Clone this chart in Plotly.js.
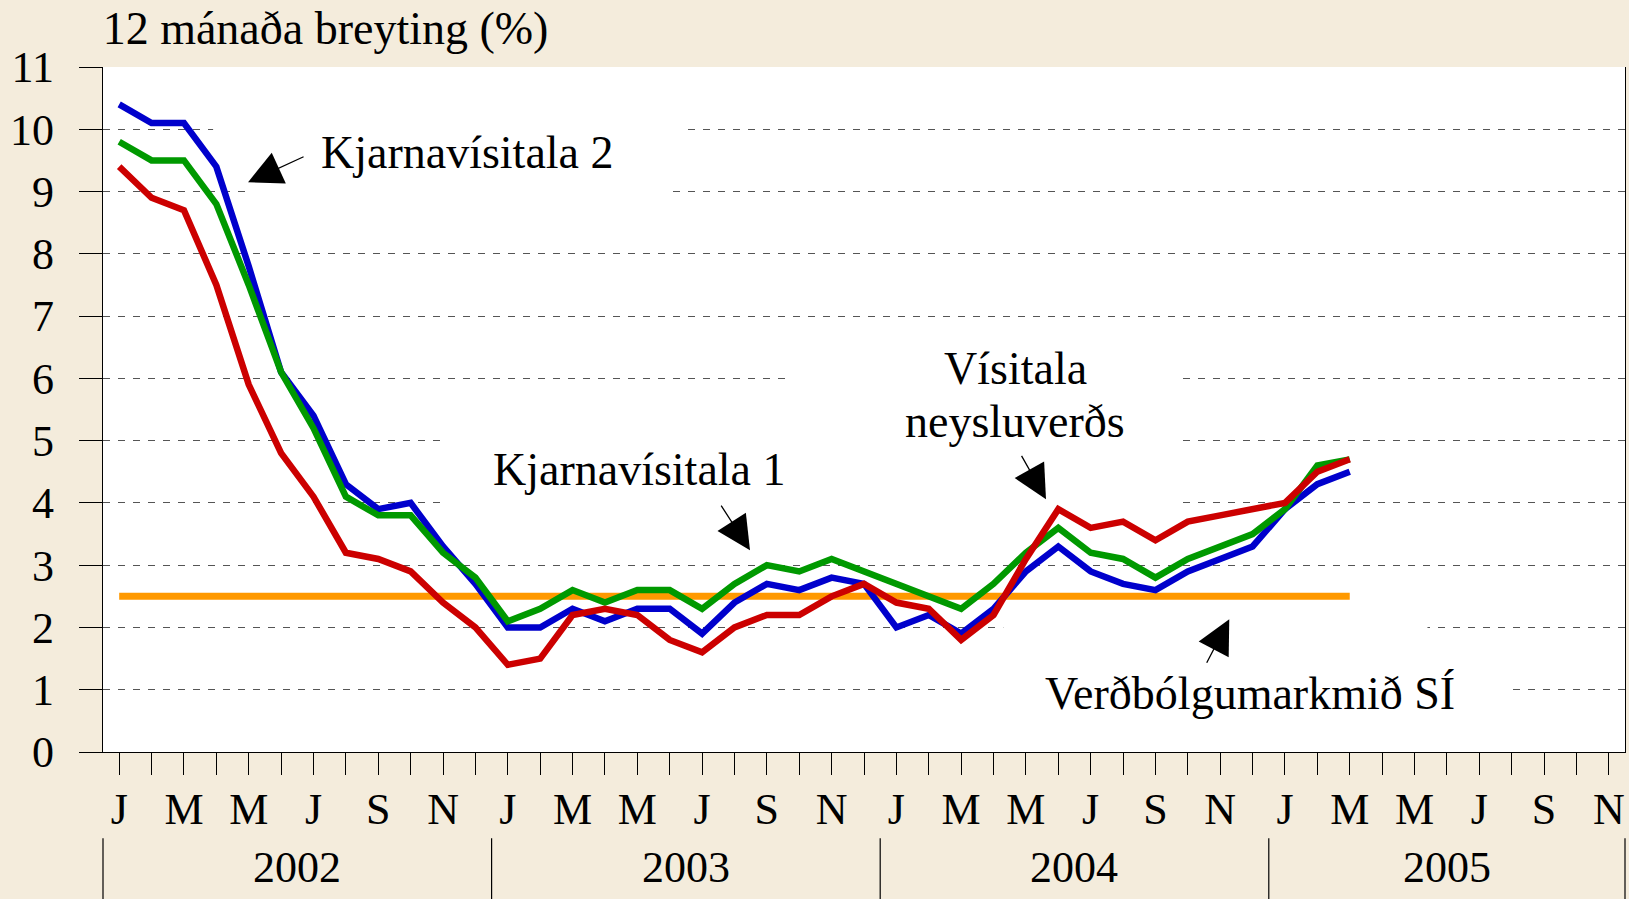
<!DOCTYPE html>
<html>
<head>
<meta charset="utf-8">
<script src="https://cdn.plot.ly/plotly-3.0.1.min.js"></script>
<style>
  html, body { margin: 0; padding: 0; background: #F4ECDC; }
  #chart { width: 1629px; height: 899px; }
</style>
</head>
<body>
<div id="chart"></div>
<script>
// Categories: months Jan 2002 - Nov 2005
const months = [
  '2002-01','2002-02','2002-03','2002-04','2002-05','2002-06','2002-07','2002-08','2002-09','2002-10','2002-11','2002-12',
  '2003-01','2003-02','2003-03','2003-04','2003-05','2003-06','2003-07','2003-08','2003-09','2003-10','2003-11','2003-12',
  '2004-01','2004-02','2004-03','2004-04','2004-05','2004-06','2004-07','2004-08','2004-09','2004-10','2004-11','2004-12',
  '2005-01','2005-02','2005-03','2005-04','2005-05','2005-06','2005-07','2005-08','2005-09','2005-10','2005-11'
];
const monthTicks = [
  'J','','M','','M','','J','','S','','N','',
  'J','','M','','M','','J','','S','','N','',
  'J','','M','','M','','J','','S','','N','',
  'J','','M','','M','','J','','S','','N'
];
const years = ['2002','2003','2004','2005'];

// Series (12 month change, %), Jan 2002 - Mar 2005
const kjarnavisitala2 = [10.4,10.1,10.1,9.4,7.8,6.1,5.4,4.3,3.9,4.0,3.3,2.7,
  2.0,2.0,2.3,2.1,2.3,2.3,1.9,2.4,2.7,2.6,2.8,2.7,
  2.0,2.2,1.9,2.3,2.9,3.3,2.9,2.7,2.6,2.9,3.1,3.3,
  3.9,4.3,4.5];
const kjarnavisitala1 = [9.8,9.5,9.5,8.8,7.5,6.1,5.2,4.1,3.8,3.8,3.2,2.8,
  2.1,2.3,2.6,2.4,2.6,2.6,2.3,2.7,3.0,2.9,3.1,2.9,
  2.7,2.5,2.3,2.7,3.2,3.6,3.2,3.1,2.8,3.1,3.3,3.5,
  3.9,4.6,4.7];
const visitalaNeysluverds = [9.4,8.9,8.7,7.5,5.9,4.8,4.1,3.2,3.1,2.9,2.4,2.0,
  1.4,1.5,2.2,2.3,2.2,1.8,1.6,2.0,2.2,2.2,2.5,2.7,
  2.4,2.3,1.8,2.2,3.1,3.9,3.6,3.7,3.4,3.7,3.8,3.9,
  4.0,4.5,4.7];
const verdbolgumarkmid = [2.5,2.5,2.5,2.5,2.5,2.5,2.5,2.5,2.5,2.5,2.5,2.5,
  2.5,2.5,2.5,2.5,2.5,2.5,2.5,2.5,2.5,2.5,2.5,2.5,
  2.5,2.5,2.5,2.5,2.5,2.5,2.5,2.5,2.5,2.5,2.5,2.5,
  2.5,2.5,2.5];

const FONT = 'Liberation Serif, Times New Roman, serif';

function line(name, y, color, width) {
  return {
    type: 'scatter', mode: 'lines', name: name,
    x: months.slice(0, y.length), y: y,
    line: {color: color, width: width},
    hoverinfo: 'skip'
  };
}

const traces = [
  line('Verðbólgumarkmið SÍ', verdbolgumarkmid, '#FF9900', 7),
  line('Kjarnavísitala 2', kjarnavisitala2, '#0000CC', 6.5),
  line('Kjarnavísitala 1', kjarnavisitala1, '#009900', 6.5),
  line('Vísitala neysluverðs', visitalaNeysluverds, '#CC0000', 6.5)
];

// white boxes behind label texts (interrupt the gridlines)
function box(x0, x1, y0, y1) {
  return {type: 'rect', xref: 'x', yref: 'y', x0: x0, x1: x1, y0: y0, y1: y1,
          fillcolor: '#FFFFFF', line: {width: 0}, layer: 'between'};
}
const shapes = [
  box(2.9, 17.5, 9.7, 10.3),
  box(3.9, 17.1, 8.7, 9.3),
  box(10.0, 32.8, 3.7, 5.3),
  box(20.6, 32.8, 5.7, 6.3),
  box(27.3, 40.4, 1.7, 2.3),
  box(26.1, 42.8, 0.7, 1.3)
];
// year dividers
const yearStarts = years.map((y, k) => 12 * k - 0.5);
yearStarts.forEach((xv, k) => {
  shapes.push({type: 'line', xref: k === 0 ? 'x domain' : 'x', yref: 'paper',
    x0: k === 0 ? 0 : xv, x1: k === 0 ? 0 : xv, y0: -0.126, y1: -0.215,
    line: {color: '#000', width: 1.2}});
});
shapes.push({type: 'line', xref: 'x domain', yref: 'paper', x0: 1, x1: 1,
  y0: -0.126, y1: -0.215, line: {color: '#000', width: 1.2}});

const annotations = [];
// year labels
years.forEach((yr, k) => {
  const start = 12 * k - 0.5;
  const end = Math.min(12 * k + 11.5, months.length - 0.5);
  annotations.push({xref: 'x', yref: 'paper', x: (start + end) / 2, y: -0.168,
    text: yr, showarrow: false, xanchor: 'center', yanchor: 'middle',
    font: {family: FONT, size: 44, color: '#000'}});
});
function label(text, x, y) {
  return {xref: 'x', yref: 'y', x: x, y: y, text: text, showarrow: false,
    xanchor: 'center', yanchor: 'middle', font: {family: FONT, size: 46, color: '#000'}};
}
annotations.push(label('Kjarnavísitala 2', 10.75, 9.62));
annotations.push(label('Kjarnavísitala 1', 16.07, 4.53));
annotations.push(label('Vísitala', 27.67, 6.16));
annotations.push(label('neysluverðs', 27.67, 5.30));
annotations.push(label('Verðbólgumarkmið SÍ', 34.91, 0.94));
function arrow(ax, ay, x, y) {
  return {xref: 'x', yref: 'y', axref: 'x', ayref: 'y', x: x, y: y, ax: ax, ay: ay,
    text: '', showarrow: true, arrowhead: 2, arrowsize: 5.2, arrowwidth: 1.3,
    arrowcolor: '#000', standoff: 0};
}
annotations.push(arrow(5.74, 9.57, 3.98, 9.15));
annotations.push(arrow(18.56, 3.98, 19.48, 3.24));
annotations.push(arrow(27.84, 4.78, 28.62, 4.06));
annotations.push(arrow(33.56, 1.41, 34.28, 2.13));

const layout = {
  width: 1629, height: 899,
  margin: {l: 103, r: 4, t: 67, b: 147, pad: 0},
  paper_bgcolor: '#F4ECDC',
  plot_bgcolor: '#FFFFFF',
  showlegend: false,
  hovermode: false,
  font: {family: FONT, color: '#000'},
  title: {
    text: '12 mánaða breyting (%)',
    font: {family: FONT, size: 46, color: '#000'},
    xref: 'container', yref: 'container',
    x: 0.063, xanchor: 'left', y: 0.969, yanchor: 'middle'
  },
  xaxis: {
    type: 'category',
    categoryorder: 'array', categoryarray: months,
    range: [-0.5, months.length - 0.5],
    tickmode: 'array', tickvals: months, ticktext: monthTicks,
    ticks: 'outside', ticklen: 22, tickwidth: 1, tickcolor: '#000',
    tickfont: {family: FONT, size: 44, color: '#000'},
    ticklabelstandoff: -4,
    showline: true, linecolor: '#000', linewidth: 1,
    showgrid: false, zeroline: false, fixedrange: true
  },
  yaxis: {
    range: [0, 11],
    tickmode: 'linear', tick0: 0, dtick: 1,
    ticks: 'outside', ticklen: 23, tickwidth: 1, tickcolor: '#000',
    tickfont: {family: FONT, size: 44, color: '#000'},
    ticklabelstandoff: 16,
    showline: true, mirror: true, linecolor: '#000', linewidth: 1.3,
    showgrid: true, gridcolor: '#555555', gridwidth: 1, griddash: '7px,8px',
    zeroline: false, fixedrange: true
  },
  shapes: shapes,
  annotations: annotations
};

Plotly.newPlot('chart', traces, layout, {staticPlot: true, displayModeBar: false});
</script>
</body>
</html>
